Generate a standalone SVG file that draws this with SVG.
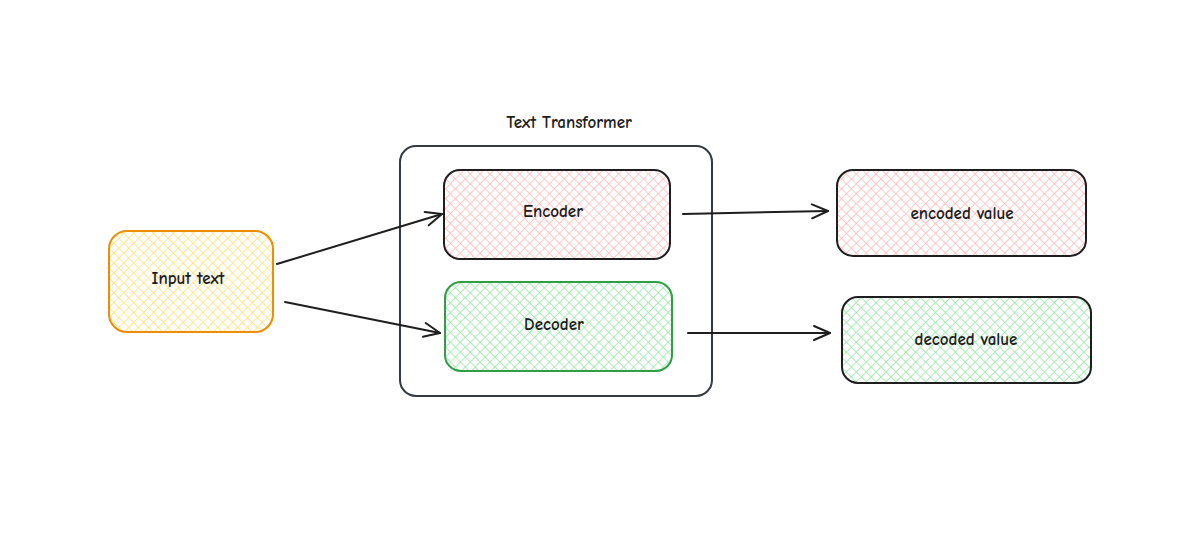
<svg xmlns="http://www.w3.org/2000/svg" width="1185" height="545" viewBox="0 0 1185 545">
<style>
text{font-family:"Comic Neue","Noto Sans","DejaVu Sans",sans-serif;font-size:17px;font-weight:bold;fill:#1e1e1e;text-anchor:middle;dominant-baseline:central}
.box{stroke-width:2}
.conn{stroke:#1e1e1e;stroke-width:2;fill:none;stroke-linecap:round}
</style>
<defs>
<pattern id="hY" width="7" height="7" patternUnits="userSpaceOnUse" patternTransform="rotate(45)">
<line x1="0" y1="0" x2="0" y2="7" stroke="#ffe27a" stroke-width="1.6"/><line x1="0" y1="0" x2="7" y2="0" stroke="#ffe27a" stroke-width="1.6"/></pattern>
<pattern id="hR" width="7" height="7" patternUnits="userSpaceOnUse" patternTransform="rotate(45)">
<line x1="0" y1="0" x2="0" y2="7" stroke="#ffbcbc" stroke-width="1.6"/><line x1="0" y1="0" x2="7" y2="0" stroke="#ffbcbc" stroke-width="1.6"/></pattern>
<pattern id="hG" width="7" height="7" patternUnits="userSpaceOnUse" patternTransform="rotate(45)">
<line x1="0" y1="0" x2="0" y2="7" stroke="#9be8a8" stroke-width="1.6"/><line x1="0" y1="0" x2="7" y2="0" stroke="#9be8a8" stroke-width="1.6"/></pattern>
<marker id="ah" viewBox="0 0 20 20" refX="18" refY="10" markerWidth="20" markerHeight="20" markerUnits="userSpaceOnUse" orient="auto">
<path d="M2,3 L18,10 L2,17" fill="none" stroke="#1e1e1e" stroke-width="2" stroke-linecap="round" stroke-linejoin="round"/></marker>
</defs>
<rect width="1185" height="545" fill="#ffffff"/>
<g id="container">
<rect x="400" y="146" width="312" height="250" rx="16" fill="none" stroke="#343a40" stroke-width="2"/>
<text x="569" y="122">Text Transformer</text>
</g>
<g id="input">
<rect class="box" x="109" y="231" width="164" height="101" rx="18" fill="url(#hY)" stroke="#f08c00"/>
<text x="188" y="278">Input text</text>
</g>
<g id="encoder">
<rect class="box" x="444" y="170" width="226" height="89" rx="16" fill="url(#hR)" stroke="#1e1e1e"/>
<text x="553" y="211">Encoder</text>
</g>
<g id="decoder">
<rect class="box" x="445" y="282" width="227" height="89" rx="16" fill="url(#hG)" stroke="#2f9e44"/>
<text x="554" y="324">Decoder</text>
</g>
<g id="encoded">
<rect class="box" x="837" y="170" width="249" height="86" rx="16" fill="url(#hR)" stroke="#1e1e1e"/>
<text x="962" y="213">encoded value</text>
</g>
<g id="decoded">
<rect class="box" x="842" y="297" width="249" height="86" rx="16" fill="url(#hG)" stroke="#1e1e1e"/>
<text x="966" y="339">decoded value</text>
</g>
<g id="connectors">
<line class="conn" x1="277" y1="264" x2="442" y2="214" marker-end="url(#ah)"/>
<line class="conn" x1="285" y1="302" x2="440" y2="333" marker-end="url(#ah)"/>
<line class="conn" x1="683" y1="214" x2="828" y2="211" marker-end="url(#ah)"/>
<line class="conn" x1="688" y1="333" x2="830" y2="333" marker-end="url(#ah)"/>
</g>
</svg>
